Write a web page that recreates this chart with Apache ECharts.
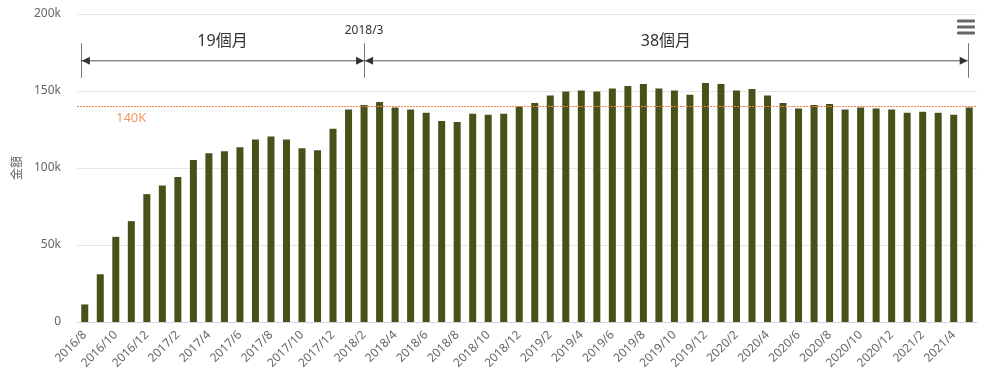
<!DOCTYPE html>
<html>
<head>
<meta charset="utf-8">
<script src="https://cdn.jsdelivr.net/npm/echarts@6/dist/echarts.min.js"></script>
<style>
html,body{margin:0;padding:0;background:#fff;}
#chart{width:992px;height:380px;}
</style>
</head>
<body>
<div id="chart"></div>
<script>
var categories = [
  '2016/8','2016/9','2016/10','2016/11','2016/12',
  '2017/1','2017/2','2017/3','2017/4','2017/5','2017/6','2017/7','2017/8','2017/9','2017/10','2017/11','2017/12',
  '2018/1','2018/2','2018/3','2018/4','2018/5','2018/6','2018/7','2018/8','2018/9','2018/10','2018/11','2018/12',
  '2019/1','2019/2','2019/3','2019/4','2019/5','2019/6','2019/7','2019/8','2019/9','2019/10','2019/11','2019/12',
  '2020/1','2020/2','2020/3','2020/4','2020/5','2020/6','2020/7','2020/8','2020/9','2020/10','2020/11','2020/12',
  '2021/1','2021/2','2021/3','2021/4','2021/5'
];
var amounts = [
  11400, 31000, 55300, 65500, 83000,
  88700, 94100, 105200, 109600, 110900, 113500, 118500, 120500, 118500, 112900, 111600, 125500,
  138000, 140900, 142900, 139300, 138000, 135900, 130500, 129800, 135200, 134600, 135200, 140000,
  142200, 147000, 149600, 150400, 149600, 151700, 153300, 154600, 151700, 150400, 147600, 155200,
  154600, 150400, 151300, 147000, 142200, 138700, 140900, 141600, 138000, 139300, 138700, 138000,
  135900, 136500, 135900, 134600, 139300
];
var yTicks = [0, 50000, 100000, 150000, 200000];
var targetValue = 140000;
var targetLabel = '140K';
var spanLabels = ['19個月', '38個月'];
var spanMarkLabel = '2018/3';
var yAxisName = '金額';

var FONT = "'Noto Sans','Noto Sans CJK TC',sans-serif";
var chart = echarts.init(document.getElementById('chart'), null, {renderer: 'canvas'});

var option = {
  animation: false,
  textStyle: {fontFamily: FONT},
  grid: {left: 77, right: 15, top: 14, bottom: 58, containLabel: false},
  xAxis: {
    type: 'category',
    data: categories,
    boundaryGap: true,
    axisLine: {lineStyle: {color: '#ccd6eb'}},
    axisTick: {show: false},
    axisLabel: {
      interval: 1,
      rotate: 45,
      color: '#666',
      fontSize: 12,
      fontFamily: FONT,
      margin: 11
    }
  },
  yAxis: {
    type: 'value',
    min: yTicks[0],
    max: yTicks[yTicks.length - 1],
    interval: yTicks[1] - yTicks[0],
    name: yAxisName,
    nameLocation: 'middle',
    nameGap: 52,
    nameTextStyle: {color: '#666', fontSize: 12, fontFamily: FONT},
    axisLine: {show: false},
    axisTick: {show: false},
    splitLine: {lineStyle: {color: '#e6e6e6'}},
    axisLabel: {
      color: '#666',
      fontSize: 12,
      margin: 16,
      fontFamily: FONT,
      formatter: function (v) { return v === 0 ? '0' : (v / 1000) + 'k'; }
    }
  },
  series: [{
    type: 'bar',
    data: amounts,
    barWidth: 7,
    itemStyle: {color: '#48511a'},
    markLine: {
      silent: true,
      symbol: 'none',
      itemStyle: {color: '#f0844a'},
      lineStyle: {color: '#f0844a', type: [2, 1], width: 1, opacity: 1},
      emphasis: {disabled: true},
      label: {
        show: true,
        position: 'insideStartBottom',
        formatter: targetLabel,
        color: '#ef9a66',
        fontSize: 13,
        fontFamily: FONT,
        padding: [0, 0, 0, 34]
      },
      data: [{yAxis: targetValue, lineStyle: {color: '#f0844a'}}]
    }
  }]
};
chart.setOption(option);

function buildAnnotations() {
  var c0 = chart.convertToPixel({xAxisIndex: 0}, 0);
  var c1 = chart.convertToPixel({xAxisIndex: 0}, 1);
  var bw = c1 - c0;
  var xStart = c0 - 0.25 * bw;
  var xMid = chart.convertToPixel({xAxisIndex: 0}, 18);
  var xEnd = chart.convertToPixel({xAxisIndex: 0}, categories.length - 1) - 0.1 * bw;
  var yArrow = chart.convertToPixel({yAxisIndex: 0}, 169600);
  var yTop = chart.convertToPixel({yAxisIndex: 0}, 181000);
  var yBot = chart.convertToPixel({yAxisIndex: 0}, 158600);
  var yText = chart.convertToPixel({yAxisIndex: 0}, 182300);
  var yMidText = chart.convertToPixel({yAxisIndex: 0}, 189500);
  var lineCol = '#555';
  var arrowCol = '#333';
  var aL = 8, aH = 4;
  function vline(x) {
    return {type: 'line', shape: {x1: Math.round(x) + 0.5, y1: yTop, x2: Math.round(x) + 0.5, y2: yBot},
            style: {stroke: '#777', lineWidth: 1}, silent: true};
  }
  function tri(tipX, dir) {
    return {type: 'polygon', shape: {points: [[tipX, yArrow], [tipX - dir * aL, yArrow - aH], [tipX - dir * aL, yArrow + aH]]},
            style: {fill: arrowCol}, silent: true};
  }
  var els = [
    vline(xStart), vline(xMid), vline(xEnd),
    {type: 'line', shape: {x1: xStart, y1: yArrow, x2: xMid, y2: yArrow}, style: {stroke: lineCol, lineWidth: 1}, silent: true},
    {type: 'line', shape: {x1: xMid, y1: yArrow, x2: xEnd, y2: yArrow}, style: {stroke: lineCol, lineWidth: 1}, silent: true},
    tri(xStart + 1, -1), tri(xMid, 1), tri(xMid + 1, -1), tri(xEnd, 1),
    {type: 'text', x: (xStart + xMid) / 2, y: yText,
     style: {text: spanLabels[0], fill: '#333', font: '16px ' + FONT, textAlign: 'center', textVerticalAlign: 'middle'}, silent: true},
    {type: 'text', x: (xMid + xEnd) / 2, y: yText,
     style: {text: spanLabels[1], fill: '#333', font: '16px ' + FONT, textAlign: 'center', textVerticalAlign: 'middle'}, silent: true},
    {type: 'text', x: xMid, y: yMidText,
     style: {text: spanMarkLabel, fill: '#333', font: '12px ' + FONT, textAlign: 'center', textVerticalAlign: 'middle'}, silent: true},
    {type: 'rect', shape: {x: 957, y: 19.5, width: 18, height: 3, r: 1}, style: {fill: '#666'}, silent: true},
    {type: 'rect', shape: {x: 957, y: 25.5, width: 18, height: 3, r: 1}, style: {fill: '#666'}, silent: true},
    {type: 'rect', shape: {x: 957, y: 31.5, width: 18, height: 3, r: 1}, style: {fill: '#666'}, silent: true}
  ];
  chart.setOption({graphic: {elements: els}});
}
buildAnnotations();
</script>
</body>
</html>
